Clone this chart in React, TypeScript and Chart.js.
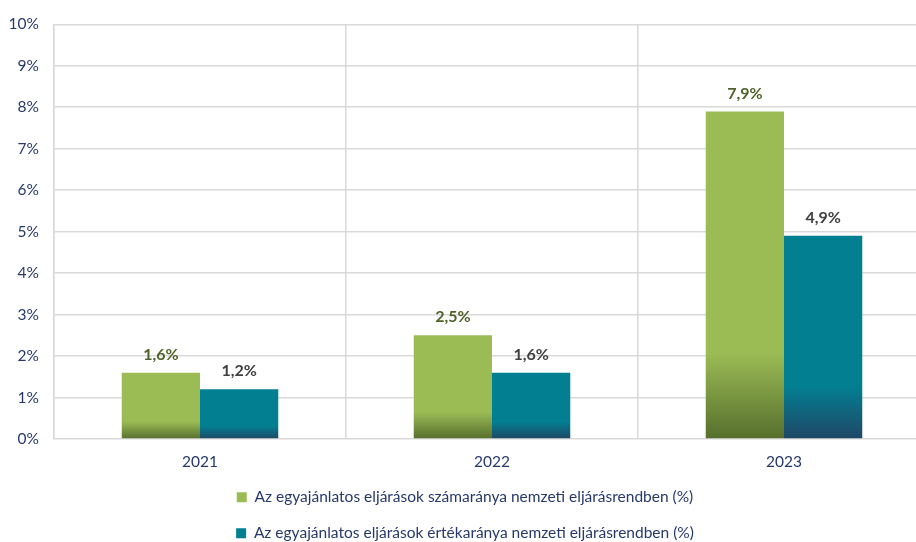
import React, { useEffect, useRef } from "react";
import { Chart, registerables } from "chart.js";

Chart.register(...registerables);

const categories = ["2021", "2022", "2023"];
const countShare = [1.6, 2.5, 7.9];
const valueShare = [1.2, 1.6, 4.9];
const seriesNames = [
  "Az egyajánlatos eljárások számaránya nemzeti eljárásrendben (%)",
  "Az egyajánlatos eljárások értékaránya nemzeti eljárásrendben (%)",
];
const yTicks = [0, 1, 2, 3, 4, 5, 6, 7, 8, 9, 10];

const GREEN = "#9BBB55";
const GREEN_DARK = "#566F2C";
const TEAL = "#037F92";
const TEAL_DARK = "#1F4766";
const AXIS_TEXT = "#27396B";
const GRID = "#D9D9D9";
const FONT = "Lato, 'Open Sans', sans-serif";

const fmt = (v: number) => v.toFixed(1).replace(".", ",") + "%";

function gradientFor(top: string, bottom: string) {
  return (ctx: any) => {
    const chart = ctx.chart;
    const scales = chart.scales;
    if (!chart.chartArea || !scales || !scales.y || typeof ctx.raw !== "number") return top;
    const yTop = scales.y.getPixelForValue(ctx.raw);
    const yBot = scales.y.getPixelForValue(0);
    if (!isFinite(yTop) || !isFinite(yBot) || yBot - yTop < 1) return top;
    const g = chart.ctx.createLinearGradient(0, yTop, 0, yBot);
    g.addColorStop(0, top);
    g.addColorStop(0.74, top);
    g.addColorStop(1, bottom);
    return g;
  };
}

const labelColors = ["#4F6228", "#404040"];

const dataLabelPlugin = {
  id: "dataLabels",
  afterDatasetsDraw(chart: any) {
    const c = chart.ctx;
    c.save();
    c.font = `bold 16px ${FONT}`;
    c.textAlign = "center";
    c.textBaseline = "middle";
    chart.data.datasets.forEach((ds: any, di: number) => {
      const meta = chart.getDatasetMeta(di);
      meta.data.forEach((bar: any, i: number) => {
        c.fillStyle = labelColors[di];
        c.fillText(fmt(ds.data[i]), bar.x, bar.y - 18);
      });
    });
    c.restore();
  },
};

export default function App() {
  const ref = useRef<HTMLCanvasElement>(null);
  useEffect(() => {
    if (!ref.current) return;
    const chart = new Chart(ref.current, {
      type: "bar",
      data: {
        labels: categories,
        datasets: [
          {
            label: seriesNames[0],
            data: countShare,
            backgroundColor: gradientFor(GREEN, GREEN_DARK),
            categoryPercentage: 0.536,
            barPercentage: 1,
          },
          {
            label: seriesNames[1],
            data: valueShare,
            backgroundColor: gradientFor(TEAL, TEAL_DARK),
            categoryPercentage: 0.536,
            barPercentage: 1,
          },
        ],
      },
      options: {
        responsive: false,
        animation: false,
        devicePixelRatio: 1,
        layout: { padding: { top: 21, left: 0, right: 0, bottom: 0 } },
        scales: {
          x: {
            grid: { color: GRID, lineWidth: 1.5, offset: true, drawTicks: false },
            border: { display: false },
            ticks: { color: AXIS_TEXT, font: { family: FONT, size: 15.5 }, padding: 14 },
            afterFit: (s: any) => {
              s.height = 30;
            },
          },
          y: {
            min: 0,
            max: 10,
            afterBuildTicks: (s: any) => {
              s.ticks = yTicks.map((v) => ({ value: v }));
            },
            grid: { color: GRID, lineWidth: 1.5, drawTicks: false },
            border: { display: true, color: GRID, width: 1.5 },
            ticks: {
              color: AXIS_TEXT,
              font: { family: FONT, size: 15.5 },
              padding: 15,
              callback: (v: any) => v + "%",
            },
            afterFit: (s: any) => {
              s.width = 54;
            },
          },
        },
        plugins: {
          legend: {
            position: "bottom",
            labels: {
              color: AXIS_TEXT,
              font: { family: FONT, size: 15.5 },
              boxWidth: 10,
              boxHeight: 10,
              padding: 20.5,
              generateLabels: () =>
                seriesNames.map((n, i) => ({
                  text: n,
                  fillStyle: i === 0 ? GREEN : TEAL,
                  strokeStyle: i === 0 ? GREEN : TEAL,
                  lineWidth: 0,
                  datasetIndex: i,
                  hidden: false,
                  fontColor: AXIS_TEXT,
                })),
            },
          },
          tooltip: { enabled: false },
        },
      },
      plugins: [dataLabelPlugin],
    });
    return () => chart.destroy();
  }, []);
  return (
    <div
      style={{
        position: "fixed",
        left: 0,
        top: 0,
        width: 916,
        height: 542,
        overflow: "hidden",
        background: "#fff",
      }}
    >
      <canvas ref={ref} width={930} height={551} style={{ display: "block" }} />
    </div>
  );
}
